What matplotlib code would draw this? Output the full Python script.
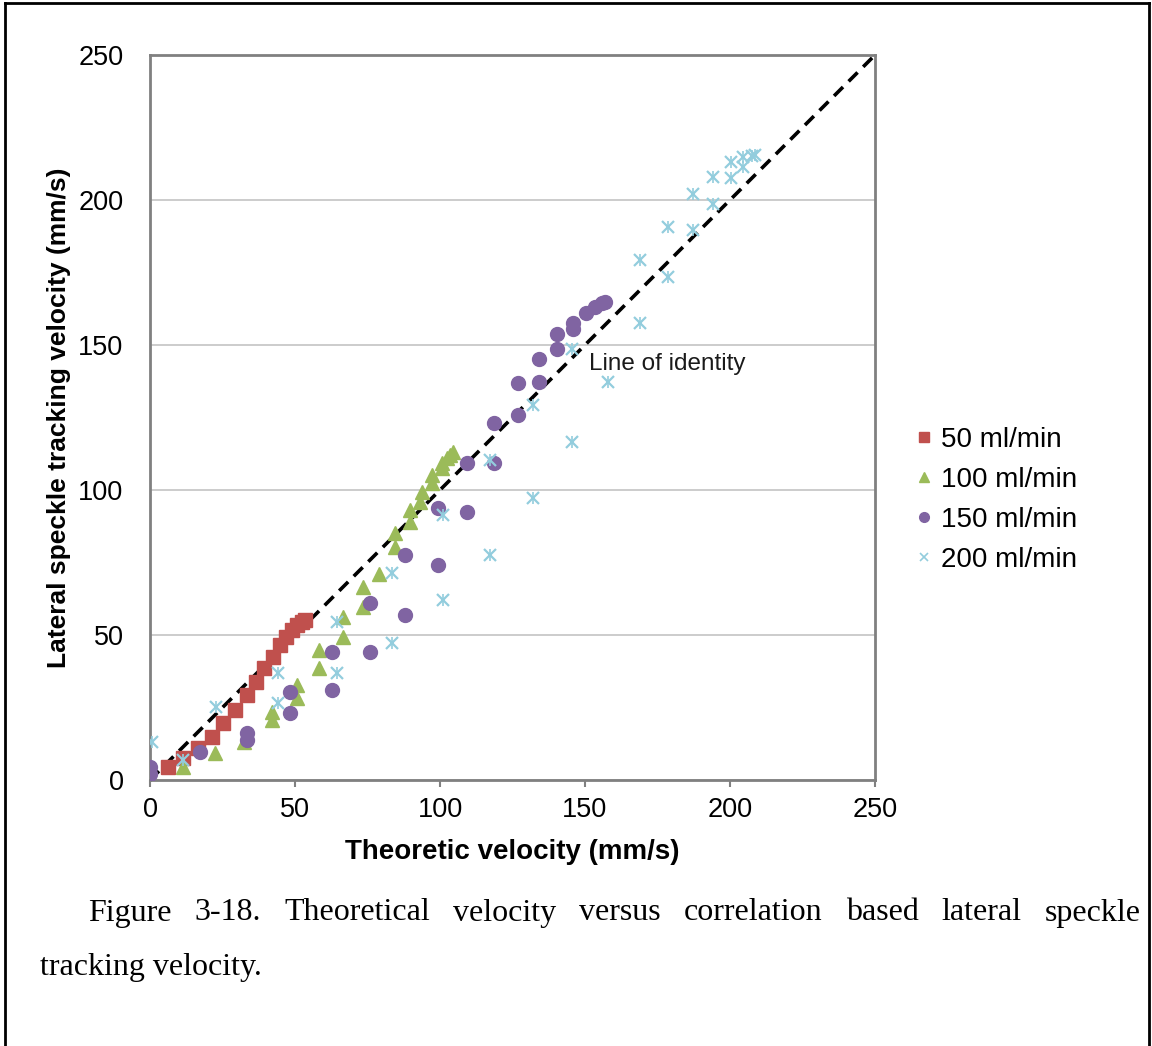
import matplotlib
matplotlib.use('Agg')
import matplotlib.pyplot as plt
from matplotlib.lines import Line2D

# 50 ml/min
x50 = [6.3, 11.5, 16.4, 21.3, 25.3, 29.3, 33.3, 36.6, 39.4, 42.5, 44.8,
       46.9, 48.8, 50.6, 52.3, 53.4]
y50 = [4.6, 7.5, 10.9, 14.9, 19.5, 24.1, 29.3, 33.9, 38.5, 42.5, 46.6,
       49.4, 51.7, 53.4, 54.6, 55.2]

# 100 ml/min
x100 = [11.5, 22.4, 32.4, 42.0, 42.0, 50.8, 50.8, 58.4, 58.4, 66.4, 66.4,
        73.3, 73.3, 79.1, 84.5, 84.5, 89.7, 89.7, 93.1, 93.7, 97.1, 97.1,
        100.6, 100.6, 102.3, 103.4, 104.6]
y100 = [4.6, 9.4, 13.2, 20.7, 23.6, 28.4, 32.8, 38.5, 44.8, 49.2, 56.1,
        59.8, 66.4, 71.0, 80.4, 85.1, 89.1, 93.1, 96.0, 99.4, 102.3, 105.2,
        107.5, 109.2, 110.9, 112.1, 113.2]

# 150 ml/min
x150 = [0.0, 0.0, 17.2, 33.3, 33.3, 48.3, 48.3, 62.6, 62.6, 75.9, 75.9,
        87.9, 87.9, 99.4, 99.4, 109.4, 109.4, 118.6, 118.6, 127.0, 127.0,
        134.3, 134.3, 140.4, 140.4, 145.7, 145.7, 150.3, 153.4, 155.7, 156.9]
y150 = [2.0, 4.5, 9.5, 13.8, 16.1, 23.0, 30.5, 31.0, 44.3, 44.3, 60.9,
        56.9, 77.6, 74.1, 93.7, 92.5, 109.4, 109.2, 123.2, 125.9, 137.0,
        137.4, 145.1, 148.5, 153.7, 155.4, 157.5, 160.9, 163.2, 164.4, 165.0]

# 200 ml/min
x200 = [0.6, 11.5, 22.8, 44.2, 44.2, 64.6, 64.6, 83.3, 83.3, 101.1, 101.1,
        117.2, 117.2, 132.2, 132.2, 145.4, 145.4, 158.0, 169.0, 169.0, 178.7,
        178.7, 187.4, 187.4, 194.3, 194.3, 200.2, 200.2, 204.6, 204.6, 207.5,
        208.6]
y200 = [13.2, 6.9, 25.3, 26.4, 36.8, 36.8, 54.6, 47.1, 71.5, 62.1, 91.4,
        77.6, 110.3, 97.1, 129.3, 116.7, 148.5, 137.4, 157.5, 179.3, 173.3,
        190.8, 189.7, 202.1, 198.6, 208.0, 207.5, 213.2, 211.5, 215.0, 215.2,
        215.5]

series_labels = ['50 ml/min', '100 ml/min', '150 ml/min', '200 ml/min']
ticks = [0, 50, 100, 150, 200, 250]
caption_line1 = ('Figure 3-18. Theoretical velocity versus correlation '
                 'based lateral speckle')
caption_line2 = 'tracking velocity.'

W, H = 1152, 1046
fig = plt.figure(figsize=(W / 100, H / 100), dpi=100)
fig.patch.set_facecolor('white')

ax = fig.add_axes([150 / W, 266 / H, 725 / W, 725 / H])
ax.set_xlim(0, 250)
ax.set_ylim(0, 250)
ax.set_xticks(ticks)
ax.set_yticks(ticks)
ax.yaxis.grid(True, color='#c8c8c8', linewidth=1.3)
ax.set_axisbelow(True)
for s in ax.spines.values():
    s.set_color('#808080')
    s.set_linewidth(2)
ax.tick_params(axis='both', direction='out', length=5, width=1.5,
               color='#808080', labelsize=19.5, pad=7)
ax.tick_params(axis='y', length=0, pad=19)
for lab in ax.get_xticklabels() + ax.get_yticklabels():
    lab.set_family('Liberation Sans')

# identity line
ax.plot([0, 250], [0, 250], color='black', linestyle=(0, (3.5, 2.2)),
        linewidth=2.6, zorder=2)
ax.text(151.3, 143.3, 'Line of identity', fontsize=17.5, va='center',
        family='Liberation Sans', color='#1a1a1a')

ax.plot(x50, y50, linestyle='none', marker='s', markersize=9.5,
        color='#C0504D', zorder=3)
ax.plot(x100, y100, linestyle='none', marker='^', markersize=10,
        color='#9BBB59', zorder=3)
ax.plot(x150, y150, linestyle='none', marker='o', markersize=10,
        color='#8064A2', zorder=3)
ax.plot(x200, y200, linestyle='none', marker='x', markersize=8,
        markeredgewidth=1.6, color='#93CDDD', zorder=3)
ax.plot(x200, y200, linestyle='none', marker='|', markersize=8,
        markeredgewidth=1.2, color='#93CDDD', zorder=3)

ax.set_xlabel('Theoretic velocity (mm/s)', fontsize=20, fontweight='bold',
              family='Liberation Sans', labelpad=12)
ax.set_ylabel('Lateral speckle tracking velocity (mm/s)', fontsize=19,
              fontweight='bold', family='Liberation Sans', labelpad=5)

handles = [
    Line2D([], [], linestyle='none', marker='s', markersize=7,
           color='#C0504D'),
    Line2D([], [], linestyle='none', marker='^', markersize=7,
           color='#9BBB59'),
    Line2D([], [], linestyle='none', marker='o', markersize=7,
           color='#8064A2'),
    Line2D([], [], linestyle='none', marker='x', markersize=6,
           markeredgewidth=1.2, color='#93CDDD'),
]
fig.legend(handles, series_labels, loc='center left',
           bbox_to_anchor=(905 / W, 1 - 500 / H), frameon=False,
           prop={'family': 'Liberation Sans', 'size': 20},
           handlelength=0.6, handletextpad=0.3, labelspacing=0.5,
           borderaxespad=0)

# caption, justified first line
fig.canvas.draw()
renderer = fig.canvas.get_renderer()
words = caption_line1.split(' ')
x_left, x_right = 88, 1141
y1 = 1 - 913 / H
objs = [fig.text(0, y1, w, fontsize=23, family='Liberation Serif',
                 va='center') for w in words]
widths = [o.get_window_extent(renderer).width for o in objs]
gap = (x_right - x_left - sum(widths)) / (len(words) - 1)
xpos = x_left
for o, wd in zip(objs, widths):
    o.set_x(xpos / W)
    xpos += wd + gap
fig.text(40 / W, 1 - 968 / H, caption_line2, fontsize=23,
         family='Liberation Serif', va='center')

# page border
border = dict(color='black', linewidth=2, transform=fig.transFigure)
fig.add_artist(Line2D([5 / W, 5 / W], [0, 1 - 3 / H], **border))
fig.add_artist(Line2D([5 / W, 1 - 3 / W], [1 - 3 / H, 1 - 3 / H], **border))
fig.add_artist(Line2D([1 - 3 / W, 1 - 3 / W], [0, 1 - 3 / H], **border))

fig.savefig('out.png', dpi=100)
